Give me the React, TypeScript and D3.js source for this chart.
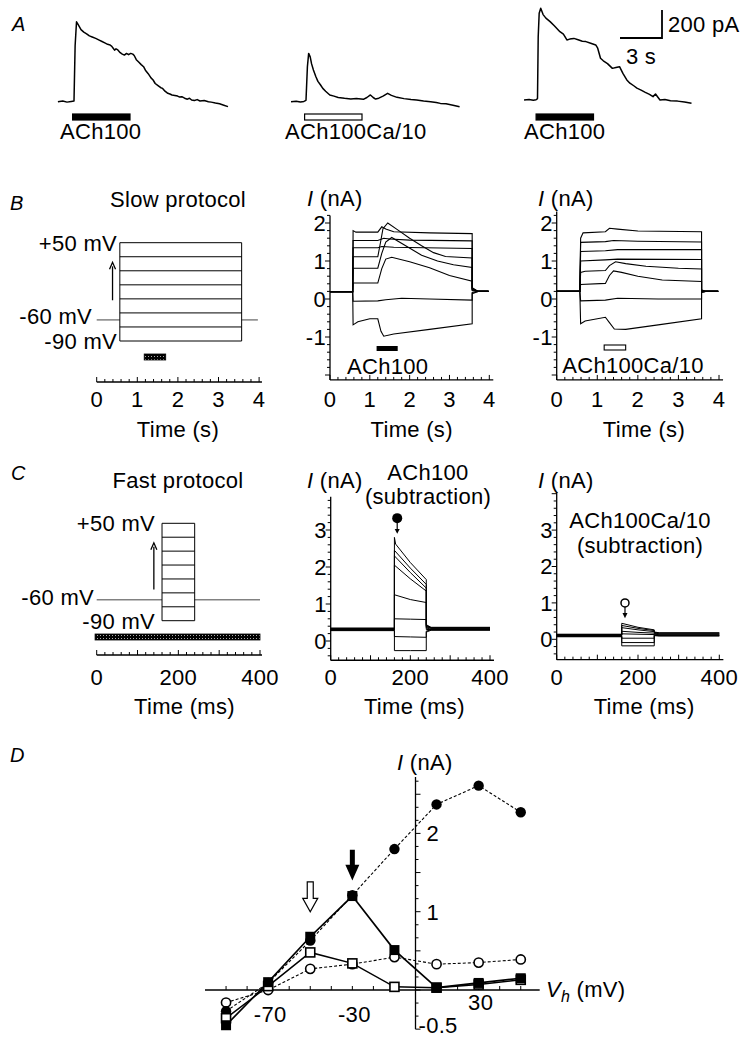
import React from "react";
import * as d3 from "d3";

const FONT = "'Liberation Sans', Arial, Helvetica, sans-serif";
const FS = 22;

type Pt = [number, number];

// ---------------- Panel A: whole-cell currents (t in s from onset, I in pA) ----------------
const traceA1: Pt[] = [
  [-1.15, 0], [-0.8, 5], [-0.5, -3], [-0.2, 2], [0, 5], [0.08, 400], [0.18, 571], [0.3, 550], [0.5, 515],
  [0.7, 497], [0.9, 485], [1.1, 470], [1.3, 462], [1.55, 452], [1.8, 440], [2.0, 430], [2.2, 420], [2.4, 410],
  [2.58, 405], [2.7, 395], [2.8, 382], [2.9, 368], [3.0, 378], [3.1, 372], [3.3, 350], [3.45, 340], [3.6, 333],
  [3.75, 345], [3.9, 336], [4.05, 345], [4.2, 340], [4.3, 330], [4.45, 300], [4.6, 285], [4.8, 265], [4.97, 250],
  [5.1, 225], [5.3, 200], [5.5, 170], [5.65, 155], [5.8, 130], [6.0, 115], [6.2, 100], [6.33, 95], [6.5, 75],
  [6.7, 60], [6.85, 55], [7.0, 48], [7.2, 45], [7.4, 40], [7.55, 33], [7.7, 36], [7.9, 25], [8.1, 18], [8.25, 25],
  [8.4, 12], [8.6, 8], [8.8, 15], [9.0, 5], [9.3, 8], [9.6, 0], [9.8, -3], [10.1, -10], [10.4, -15], [10.7, -25],
  [11.0, -35],
];
const traceA2: Pt[] = [
  [-1.07, 0], [-0.7, 4], [-0.4, -2], [-0.15, 2], [0, 10], [0.1, 250], [0.19, 345], [0.3, 320], [0.4, 270],
  [0.53, 226], [0.7, 180], [0.85, 145], [1.04, 119], [1.2, 95], [1.4, 75], [1.7, 48], [2.0, 40], [2.3, 30],
  [2.75, 24], [3.2, 20], [3.6, 22], [4.1, 17], [4.35, 30], [4.6, 48], [4.8, 30], [4.97, 19], [5.2, 25], [5.5, 40],
  [5.83, 60], [6.1, 45], [6.5, 31], [7.0, 22], [7.5, 15], [7.9, 12], [8.4, 5], [8.9, 0], [9.3, -5], [9.6, -12],
  [10.0, -15], [10.5, -25], [10.97, -36],
];
const traceA3: Pt[] = [
  [-0.96, 0], [-0.6, 3], [-0.3, -2], [-0.1, 2], [0.0, 10], [0.05, 450], [0.12, 620], [0.23, 655], [0.4, 610],
  [0.6, 585], [0.9, 560], [1.2, 530], [1.6, 488], [1.85, 470], [2.1, 429], [2.3, 435], [2.6, 440], [2.9, 430],
  [3.2, 420], [3.46, 417], [3.8, 405], [4.16, 393], [4.3, 370], [4.5, 298], [4.7, 280], [5.0, 260], [5.35, 226],
  [5.6, 232], [5.86, 238], [6.1, 190], [6.38, 143], [6.6, 120], [6.9, 100], [7.1, 85], [7.4, 71], [7.7, 55],
  [8.0, 40], [8.25, 24], [8.43, 43], [8.6, 20], [8.75, 0], [9.1, 3], [9.5, -5], [10.0, -8], [10.5, -15], [11.0, -24],
];
const drugA: [number, number] = [-0.1, 4.0];
const labelsA = ["ACh100", "ACh100Ca/10", "ACh100"];
const scaleBarSec = 3;
const scaleBarPA = 200;

// ---------------- Panel B: slow protocol ----------------
const stepLevels = [-90, -70, -50, -30, -10, 10, 30, 50];
const holdingMV = -60;
const slowStep: [number, number] = [0.57, 3.57];
const slowDrug: [number, number] = [1.17, 1.7];
const slowTicks = [0, 1, 2, 3, 4];

const slowHoldMid = 0.19;
const slowSweepsMid: Pt[][] = [
  [[0.58, 1.8], [0.65, 1.76], [1.2, 1.76], [1.3, 1.9], [1.4, 1.84], [1.6, 1.77], [2.5, 1.74], [3.57, 1.72]],
  [[0.58, 1.54], [1.2, 1.54], [1.35, 1.6], [1.5, 1.58], [2.0, 1.55], [3.57, 1.53]],
  [[0.58, 1.35], [1.2, 1.35], [1.3, 1.38], [1.6, 1.36], [3.57, 1.33]],
  [[0.58, 1.11], [1.2, 1.11], [1.27, 1.5], [1.33, 1.85], [1.45, 2.0], [1.7, 1.82], [2.0, 1.6], [2.3, 1.4], [2.6, 1.22], [2.9, 1.12], [3.57, 1.08]],
  [[0.58, 0.81], [1.2, 0.81], [1.3, 1.2], [1.4, 1.5], [1.55, 1.62], [1.9, 1.4], [2.3, 1.15], [2.7, 1.0], [3.1, 0.9], [3.57, 0.83]],
  [[0.58, 0.42], [1.2, 0.42], [1.3, 0.8], [1.4, 1.05], [1.55, 1.1], [2.0, 0.98], [2.5, 0.82], [3.0, 0.62], [3.57, 0.47]],
  [[0.58, -0.06], [1.2, -0.05], [1.4, -0.02], [1.8, 0.02], [2.5, 0.0], [3.57, -0.03]],
  [[0.58, -0.68], [0.7, -0.6], [1.0, -0.52], [1.2, -0.52], [1.28, -0.85], [1.35, -0.98], [1.6, -0.92], [2.5, -0.8], [3.57, -0.65]],
];
const slowTailsMid = [0.3, 0.28, 0.27, 0.25, 0.24, 0.22, 0.17, 0.14];

const slowHoldR = 0.2;
const slowSweepsR: Pt[][] = [
  [[0.59, 1.6], [0.65, 1.74], [1.2, 1.77], [1.3, 1.86], [1.5, 1.84], [2.0, 1.79], [3.57, 1.77]],
  [[0.59, 1.49], [1.2, 1.51], [1.4, 1.54], [2.0, 1.52], [3.57, 1.5]],
  [[0.59, 1.25], [1.2, 1.27], [1.5, 1.3], [3.57, 1.3]],
  [[0.59, 1.0], [1.2, 1.03], [1.5, 1.05], [3.57, 1.04]],
  [[0.59, 0.7], [0.7, 0.73], [1.2, 0.75], [1.3, 0.88], [1.45, 0.98], [1.7, 0.93], [2.2, 0.86], [3.0, 0.81], [3.57, 0.79]],
  [[0.59, 0.38], [1.2, 0.41], [1.3, 0.62], [1.4, 0.74], [1.6, 0.7], [2.0, 0.6], [2.6, 0.5], [3.57, 0.46]],
  [[0.59, -0.05], [1.2, -0.03], [1.5, 0.02], [2.5, 0.0], [3.57, 0.0]],
  [[0.59, -0.65], [0.7, -0.58], [1.2, -0.48], [1.3, -0.62], [1.42, -0.79], [1.7, -0.8], [2.5, -0.68], [3.57, -0.52]],
];
const slowTailsR = [0.24, 0.23, 0.22, 0.21, 0.2, 0.19, 0.18, 0.17];

// ---------------- Panel C: fast protocol (ms) ----------------
const fastStep: [number, number] = [160, 240];
const fastDrug: [number, number] = [-4, 400];
const fastTicks = [0, 200, 400];

const fastHoldMid = [0.35, 0.34, 0.33, 0.32, 0.31, 0.3, 0.29, 0.28];
const fastSweepsMid: Pt[][] = [
  [[160, 2.8], [163, 2.62], [200, 2.12], [240, 1.66]],
  [[160, 2.45], [200, 1.97], [240, 1.53]],
  [[160, 2.3], [200, 1.85], [240, 1.43]],
  [[160, 2.05], [200, 1.68], [240, 1.35]],
  [[160, 1.25], [200, 1.12], [240, 1.04]],
  [[160, 0.6], [200, 0.59], [240, 0.58]],
  [[160, 0.12], [200, 0.11], [240, 0.1]],
  [[160, -0.26], [200, -0.26], [240, -0.26]],
];
const fastTailMid = [0.44, 0.42, 0.4, 0.38, 0.35, 0.31, 0.27, 0.24];
const fastSettleMid = [0.37, 0.36, 0.35, 0.34, 0.32, 0.31, 0.3, 0.29];

const fastHoldR = [0.14, 0.13, 0.12, 0.11, 0.1, 0.09, 0.08, 0.07];
const fastSweepsR: Pt[][] = [
  [[160, 0.44], [200, 0.33], [240, 0.26]],
  [[160, 0.38], [200, 0.3], [240, 0.24]],
  [[160, 0.32], [200, 0.26], [240, 0.21]],
  [[160, 0.22], [200, 0.19], [240, 0.17]],
  [[160, 0.15], [200, 0.14], [240, 0.13]],
  [[160, 0.03], [200, 0.03], [240, 0.03]],
  [[160, -0.09], [200, -0.09], [240, -0.09]],
  [[160, -0.18], [200, -0.18], [240, -0.18]],
];
const fastTailR = [0.2, 0.19, 0.18, 0.16, 0.15, 0.13, 0.11, 0.1];
const fastSettleR = [0.18, 0.17, 0.15, 0.14, 0.12, 0.11, 0.1, 0.09];

// ---------------- Panel D: I-V relations ----------------
const vh = [-90, -70, -50, -30, -10, 10, 30, 50];
const filledCircles = [-0.27, 0.09, 0.63, 1.21, 1.8, 2.37, 2.61, 2.27];
const filledSquares = [-0.45, 0.1, 0.68, 1.2, 0.51, 0.03, 0.09, 0.15];
const openSquares = [-0.36, 0.05, 0.48, 0.34, 0.04, 0.03, 0.07, 0.13];
const openCircles = [-0.16, 0.0, 0.27, 0.33, 0.42, 0.33, 0.35, 0.39];
const dXLabels = [-70, -30, 30];
const dYLabels = [2, 1, -0.5];

// ---------------- helpers ----------------
function rng(a: number, b: number, step: number): number[] {
  const out: number[] = [];
  const n = Math.round((b - a) / step);
  for (let i = 0; i <= n; i++) out.push(+(a + i * step).toFixed(6));
  return out;
}
const isMult = (v: number, m: number) => Math.abs(v / m - Math.round(v / m)) < 1e-6;

function XAxisUp({ xs, y, from, to, minor, major, labels, labelY, title, titleX, titleY }: any) {
  return (
    <g>
      <line x1={xs(from)} x2={xs(to)} y1={y} y2={y} stroke="#000" strokeWidth={1.3} />
      {rng(0, Math.floor((to + 1e-9) / minor) * minor, minor).map((t) => (
        <line key={t} x1={xs(t)} x2={xs(t)} y1={y} y2={y - (isMult(t, major) ? 5 : 3)} stroke="#000" strokeWidth={1} />
      ))}
      {labels.map((l: number) => (
        <text key={l} x={xs(l)} y={labelY} textAnchor="middle" fontSize={FS}>{l}</text>
      ))}
      <text x={titleX} y={titleY} textAnchor="middle" fontSize={FS}>{title}</text>
    </g>
  );
}

function YAxisLeft({ ys, x, from, to, minor, labels }: any) {
  return (
    <g>
      <line x1={x} x2={x} y1={ys(from)} y2={ys(to)} stroke="#000" strokeWidth={1.3} />
      {rng(Math.ceil(from / minor) * minor, Math.floor(to / minor) * minor, minor).map((v) => (
        <line key={v} x1={x} x2={x - (isMult(v, 1) ? 5 : 3)} y1={ys(v)} y2={ys(v)} stroke="#000" strokeWidth={1} />
      ))}
      {labels.map((l: number) => (
        <text key={l} x={x - 4} y={ys(l)} dy="0.36em" textAnchor="end" fontSize={FS}>{l}</text>
      ))}
    </g>
  );
}

function ILabel({ x, y }: { x: number; y: number }) {
  return (
    <text x={x} y={y} fontSize={FS}>
      <tspan fontStyle="italic">I</tspan> (nA)
    </text>
  );
}

function Protocol({ xs, vs, step, holdEnd, arrow, arrowX, drug, drugY }: any) {
  const [t0, t1] = step;
  return (
    <g>
      <line x1={xs(0)} x2={xs(t0)} y1={vs(holdingMV)} y2={vs(holdingMV)} stroke="#444" strokeWidth={1} />
      <line x1={xs(t1)} x2={xs(holdEnd)} y1={vs(holdingMV)} y2={vs(holdingMV)} stroke="#444" strokeWidth={1} />
      <line x1={xs(t0)} x2={xs(t0)} y1={vs(-90)} y2={vs(50)} stroke="#000" strokeWidth={1} />
      <line x1={xs(t1)} x2={xs(t1)} y1={vs(-90)} y2={vs(50)} stroke="#000" strokeWidth={1} />
      {stepLevels.map((v) => (
        <line key={v} x1={xs(t0)} x2={xs(t1)} y1={vs(v)} y2={vs(v)} stroke="#000" strokeWidth={1} />
      ))}
      <line x1={xs(arrowX)} x2={xs(arrowX)} y1={vs(arrow[0])} y2={vs(arrow[1]) + 4} stroke="#000" strokeWidth={1.3} />
      <path
        d={`M${xs(arrowX) - 3},${vs(arrow[1]) + 7} L${xs(arrowX)},${vs(arrow[1])} L${xs(arrowX) + 3},${vs(arrow[1]) + 7}`}
        fill="none" stroke="#000" strokeWidth={1.3}
      />
      <rect x={xs(drug[0])} y={drugY} width={xs(drug[1]) - xs(drug[0])} height={6} fill="url(#dots)" stroke="#000" strokeWidth={0.8} />
    </g>
  );
}

function sweepPath(xs: any, ys: any, hold: number, pts: Pt[], step: [number, number], tail: number, settle: number, end: number, tailDur: number) {
  const all: Pt[] = [[0, hold], [step[0], hold], ...pts, [step[1], tail], [step[1] + tailDur, settle], [end, settle]];
  return d3.line<Pt>().x((d) => xs(d[0])).y((d) => ys(d[1]))(all) || "";
}

export default function App() {
  // ---------- Panel A ----------
  const aPxPerS = 14;
  const aPxPerPA = 0.14;
  const aTraces = [
    { data: traceA1, rise: 74, base: 101.7, open: false, labelX: 60 },
    { data: traceA2, rise: 306, base: 101.7, open: true, labelX: 285 },
    { data: traceA3, rise: 537.5, base: 100, open: false, labelX: 524 },
  ];

  // ---------- Panel B scales ----------
  const bLx = d3.scaleLinear().domain([0, 4]).range([96.7, 259.1]);
  const bLv = d3.scaleLinear().domain([-90, 50]).range([341, 242.7]);
  const bMx = d3.scaleLinear().domain([0, 4]).range([330, 489.3]);
  const bMy = d3.scaleLinear().domain([0, 1]).range([299, 261]);
  const bRx = d3.scaleLinear().domain([0, 4]).range([556.7, 719]);
  const bRy = d3.scaleLinear().domain([0, 1]).range([299, 261]);

  // ---------- Panel C scales ----------
  const cLx = d3.scaleLinear().domain([0, 400]).range([96.7, 260]);
  const cLv = d3.scaleLinear().domain([-90, 50]).range([620.7, 523.3]);
  const cMx = d3.scaleLinear().domain([0, 400]).range([330.7, 490]);
  const cMy = d3.scaleLinear().domain([0, 1]).range([641, 604]);
  const cRx = d3.scaleLinear().domain([0, 400]).range([556.7, 719.3]);
  const cRy = d3.scaleLinear().domain([0, 1]).range([639.3, 602.9]);

  // ---------- Panel D scales ----------
  const dx = d3.scaleLinear().domain([-100, 0]).range([205, 415.5]);
  const dy = d3.scaleLinear().domain([0, 1]).range([990, 911.7]);
  const dLine = d3.line<number>().x((_, i) => dx(vh[i])).y((d) => dy(d));

  return (
    <svg width={749} height={1046} style={{ position: "absolute", left: 0, top: 0, background: "#fff", letterSpacing: "0.3px" }} fontFamily={FONT}>
      <defs>
        <pattern id="dots" width={3} height={3} patternUnits="userSpaceOnUse">
          <rect width={3} height={3} fill="#000" />
          <rect x={1} y={2} width={1} height={1} fill="#aaa" />
        </pattern>
      </defs>
      <rect width={749} height={1046} fill="#fff" />

      {/* ================= A ================= */}
      <text x={12} y={31} fontSize={FS - 2} fontStyle="italic">A</text>
      {aTraces.map((tr, i) => {
        const xs = d3.scaleLinear().domain([0, 1]).range([tr.rise, tr.rise + aPxPerS]);
        const ys = d3.scaleLinear().domain([0, 1]).range([tr.base, tr.base - aPxPerPA]);
        const path = d3.line<Pt>().x((d) => xs(d[0])).y((d) => ys(d[1]))(tr.data) || "";
        return (
          <g key={i}>
            <path d={path} fill="none" stroke="#000" strokeWidth={1.5} strokeLinejoin="round" />
            <rect
              x={xs(drugA[0])} y={114} width={xs(drugA[1]) - xs(drugA[0])} height={6}
              fill={tr.open ? "#fff" : "#000"} stroke="#000" strokeWidth={1.2}
            />
            <text x={tr.labelX} y={139} fontSize={FS}>{labelsA[i]}</text>
          </g>
        );
      })}
      {/* scale bar */}
      <path d={`M${662 - scaleBarSec * aPxPerS},38 H662 V${38 - scaleBarPA * aPxPerPA}`} fill="none" stroke="#000" strokeWidth={1.8} />
      <text x={668} y={32} fontSize={FS}>{`${scaleBarPA} pA`}</text>
      <text x={641} y={64} fontSize={FS} textAnchor="middle">{`${scaleBarSec} s`}</text>

      {/* ================= B ================= */}
      <text x={10} y={210} fontSize={FS - 2} fontStyle="italic">B</text>
      <text x={178} y={207} fontSize={FS} textAnchor="middle">Slow protocol</text>
      <Protocol xs={bLx} vs={bLv} step={slowStep} holdEnd={3.97} arrow={[-32, 22]} arrowX={0.39} drug={slowDrug} drugY={354} />
      <text x={117} y={bLv(50)} dy="0.36em" fontSize={FS} textAnchor="end">+50 mV</text>
      <text x={92} y={bLv(-60) - 4} dy="0.36em" fontSize={FS} textAnchor="end">-60 mV</text>
      <text x={117} y={bLv(-90)} dy="0.36em" fontSize={FS} textAnchor="end">-90 mV</text>
      <XAxisUp xs={bLx} y={382} from={0} to={4.07} minor={0.2} major={1} labels={slowTicks} labelY={407} title="Time (s)" titleX={bLx(2)} titleY={437} />

      {/* B middle */}
      <ILabel x={307} y={206} />
      <YAxisLeft ys={bMy} x={330} from={-2.13} to={2.2} minor={0.2} labels={[2, 1, 0, -1]} />
      <XAxisUp xs={bMx} y={bMy(-2.13)} from={0} to={4.1} minor={0.2} major={1} labels={slowTicks} labelY={407} title="Time (s)" titleX={bMx(2.05)} titleY={437} />
      {slowSweepsMid.map((pts, i) => (
        <path key={i} d={sweepPath(bMx, bMy, slowHoldMid, pts, slowStep, slowTailsMid[i], 0.2, 3.98, 0.15)} fill="none" stroke="#000" strokeWidth={1.1} />
      ))}
      <rect x={bMx(slowDrug[0])} y={346} width={bMx(slowDrug[1]) - bMx(slowDrug[0])} height={5} fill="#000" />
      <text x={bMx(1.45)} y={374} fontSize={FS} textAnchor="middle">ACh100</text>

      {/* B right */}
      <ILabel x={538} y={206} />
      <YAxisLeft ys={bRy} x={556.7} from={-2.13} to={2.3} minor={0.2} labels={[2, 1, 0, -1]} />
      <XAxisUp xs={bRx} y={bRy(-2.13)} from={0} to={4.1} minor={0.2} major={1} labels={slowTicks} labelY={407} title="Time (s)" titleX={bRx(2.15)} titleY={437} />
      {slowSweepsR.map((pts, i) => (
        <path key={i} d={sweepPath(bRx, bRy, slowHoldR, pts, slowStep, slowTailsR[i], 0.2, 3.98, 0.1)} fill="none" stroke="#000" strokeWidth={1.1} />
      ))}
      <rect x={bRx(slowDrug[0])} y={345} width={bRx(slowDrug[1]) - bRx(slowDrug[0])} height={5} fill="#fff" stroke="#000" strokeWidth={1.1} />
      <text x={bRx(1.88)} y={373} fontSize={FS} textAnchor="middle">ACh100Ca/10</text>

      {/* ================= C ================= */}
      <text x={11} y={480} fontSize={FS - 2} fontStyle="italic">C</text>
      <text x={178} y={488} fontSize={FS} textAnchor="middle">Fast protocol</text>
      <Protocol xs={cLx} vs={cLv} step={fastStep} holdEnd={400} arrow={[-45, 22]} arrowX={140} drug={fastDrug} drugY={634} />
      <text x={155} y={cLv(50)} dy="0.36em" fontSize={FS} textAnchor="end">+50 mV</text>
      <text x={94} y={cLv(-60) - 3} dy="0.36em" fontSize={FS} textAnchor="end">-60 mV</text>
      <text x={155} y={cLv(-90)} dy="0.36em" fontSize={FS} textAnchor="end">-90 mV</text>
      <XAxisUp xs={cLx} y={655} from={0} to={405} minor={20} major={100} labels={fastTicks} labelY={685} title="Time (ms)" titleX={cLx(215)} titleY={714} />

      {/* C middle */}
      <ILabel x={307} y={488} />
      <text x={428} y={480} fontSize={FS} textAnchor="middle">ACh100</text>
      <text x={428} y={504} fontSize={FS} textAnchor="middle">(subtraction)</text>
      <YAxisLeft ys={cMy} x={330.7} from={-0.52} to={3.9} minor={0.2} labels={[3, 2, 1, 0]} />
      <XAxisUp xs={cMx} y={cMy(-0.52)} from={0} to={410} minor={20} major={100} labels={fastTicks} labelY={685} title="Time (ms)" titleX={cMx(210)} titleY={714} />
      {fastSweepsMid.map((pts, i) => (
        <path key={i} d={sweepPath(cMx, cMy, fastHoldMid[i], pts, fastStep, fastTailMid[i], fastSettleMid[i], 400, 12)} fill="none" stroke="#000" strokeWidth={1} />
      ))}
      <circle cx={cMx(167)} cy={cMy(3.32)} r={5} fill="#000" />
      <line x1={cMx(167)} x2={cMx(167)} y1={cMy(3.2)} y2={cMy(2.95)} stroke="#000" strokeWidth={1.2} />
      <path d={`M${cMx(167) - 2.5},${cMy(3.03)} L${cMx(167)},${cMy(2.9)} L${cMx(167) + 2.5},${cMy(3.03)} Z`} fill="#000" />

      {/* C right */}
      <ILabel x={538} y={488} />
      <text x={640} y={528} fontSize={FS} textAnchor="middle">ACh100Ca/10</text>
      <text x={640} y={553} fontSize={FS} textAnchor="middle">(subtraction)</text>
      <YAxisLeft ys={cRy} x={556.7} from={-0.56} to={4.05} minor={0.2} labels={[3, 2, 1, 0]} />
      <XAxisUp xs={cRx} y={cRy(-0.56)} from={0} to={410} minor={20} major={100} labels={fastTicks} labelY={685} title="Time (ms)" titleX={cRx(215)} titleY={714} />
      {fastSweepsR.map((pts, i) => (
        <path key={i} d={sweepPath(cRx, cRy, fastHoldR[i], pts, fastStep, fastTailR[i], fastSettleR[i], 400, 12)} fill="none" stroke="#000" strokeWidth={1} />
      ))}
      <circle cx={cRx(168)} cy={cRy(1.0)} r={4} fill="#fff" stroke="#000" strokeWidth={1.5} />
      <line x1={cRx(168)} x2={cRx(168)} y1={cRy(0.89)} y2={cRy(0.66)} stroke="#000" strokeWidth={1.2} />
      <path d={`M${cRx(168) - 2.5},${cRy(0.72)} L${cRx(168)},${cRy(0.58)} L${cRx(168) + 2.5},${cRy(0.72)} Z`} fill="#000" />

      {/* ================= D ================= */}
      <text x={10} y={762} fontSize={FS - 2} fontStyle="italic">D</text>
      {/* axes */}
      <line x1={dx(-100)} x2={dx(59)} y1={dy(0)} y2={dy(0)} stroke="#000" strokeWidth={1.3} />
      {rng(-90, 50, 10).filter((v) => v !== 0).map((v) => (
        <line key={v} x1={dx(v)} x2={dx(v)} y1={dy(0)} y2={dy(0) - 4} stroke="#000" strokeWidth={1} />
      ))}
      <line x1={dx(0)} x2={dx(0)} y1={dy(-0.5)} y2={dy(2.72)} stroke="#000" strokeWidth={1.3} />
      {rng(-3, 16, 1).map((k) => (
        <line key={k} x1={dx(0)} x2={dx(0) + (k % 3 === 0 ? 5 : 3)} y1={dy(k / 6)} y2={dy(k / 6)} stroke="#000" strokeWidth={1} />
      ))}
      {dYLabels.map((l) => (
        <text key={l} x={dx(0) + (l < 0 ? 3 : 11)} y={l < 0 ? 1033 : dy(l) + 8} fontSize={FS}>{l}</text>
      ))}
      {dXLabels.map((l) => (
        <text key={l} x={dx(l) + 2} y={l > 0 ? 1010 : 1022} fontSize={FS} textAnchor="middle">{l}</text>
      ))}
      <ILabel x={397} y={770} />
      <text x={546} y={997} fontSize={FS}>
        <tspan fontStyle="italic">V</tspan>
        <tspan fontStyle="italic" fontSize={16} dy={5}>h</tspan>
        <tspan dy={-5}> (mV)</tspan>
      </text>

      {/* series lines */}
      <path d={dLine(openCircles) || ""} fill="none" stroke="#000" strokeWidth={1.1} strokeDasharray="3,2" />
      <path d={dLine(filledCircles) || ""} fill="none" stroke="#000" strokeWidth={1.1} strokeDasharray="3,2" />
      <path d={dLine(openSquares) || ""} fill="none" stroke="#000" strokeWidth={1.5} />
      <path d={dLine(filledSquares) || ""} fill="none" stroke="#000" strokeWidth={1.7} />

      {/* markers */}
      {openCircles.map((v, i) => (
        <circle key={"oc" + i} cx={dx(vh[i])} cy={dy(v)} r={4.6} fill="#fff" stroke="#000" strokeWidth={1.6} />
      ))}
      {filledCircles.map((v, i) => (
        <circle key={"fc" + i} cx={dx(vh[i])} cy={dy(v)} r={5.2} fill="#000" />
      ))}
      {openSquares.map((v, i) => (
        <rect key={"os" + i} x={dx(vh[i]) - 4.5} y={dy(v) - 4.5} width={9} height={9} fill="#fff" stroke="#000" strokeWidth={1.6} />
      ))}
      {filledSquares.map((v, i) => (
        <rect key={"fs" + i} x={dx(vh[i]) - 5} y={dy(v) - 5} width={10} height={10} fill="#000" />
      ))}

      {/* arrows */}
      <path
        d={`M${dx(-30) - 2.5},${dy(1.79)} V${dy(1.6)} H${dx(-30) - 7} L${dx(-30)},${dy(1.4)} L${dx(-30) + 7},${dy(1.6)} H${dx(-30) + 2.5} V${dy(1.79)} Z`}
        fill="#000"
      />
      <path
        d={`M${dx(-50) - 3},${dy(1.38)} V${dy(1.17)} H${dx(-50) - 7.5} L${dx(-50)},${dy(1.0)} L${dx(-50) + 7.5},${dy(1.17)} H${dx(-50) + 3} V${dy(1.38)} Z`}
        fill="#fff" stroke="#000" strokeWidth={1.2}
      />
    </svg>
  );
}
